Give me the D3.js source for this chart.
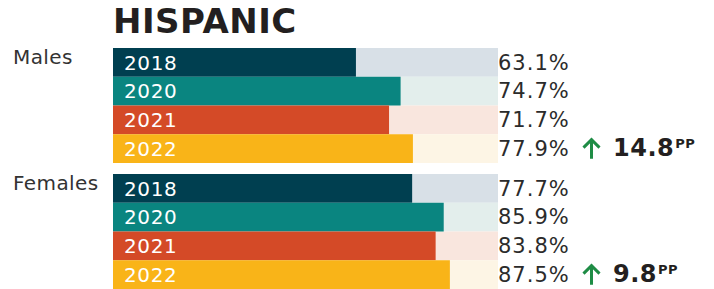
<!DOCTYPE html>
<html>
<head>
<meta charset="utf-8">
<script src="https://cdn.jsdelivr.net/npm/d3@7"></script>
<style>
body{margin:0;background:#fff;}
svg{display:block;font-family:"DejaVu Sans",Verdana,sans-serif;}
</style>
</head>
<body>
<svg id="chart" width="714" height="289"></svg>
<script>
// data
const title = "HISPANIC";
const groups = ["Males","Females"];
const years = ["2018","2020","2021","2022"];
const malesValues = [63.1,74.7,71.7,77.9];
const femalesValues = [77.7,85.9,83.8,87.5];
const changes = [14.8,9.8];

const barColors = ["#003f50","#0a8580","#d44a27","#f9b418"];
const trackColors = ["#d8e0e7","#e3eeec","#f9e6de","#fdf5e5"];

const svg = d3.select("#chart");

const x = d3.scaleLinear().domain([0,100]).range([113,498]);
const groupY = d3.scaleOrdinal().domain(groups).range([48,174]);
const rowY = d3.scaleBand().domain(years).range([0,115]).padding(0);

svg.append("text")
	.attr("x",113)
	.attr("y",33)
	.attr("font-size",34)
	.attr("font-weight","bold")
	.attr("letter-spacing",0.5)
	.attr("fill","#231f20")
	.text(title);

const seriesByGroup = [malesValues,femalesValues];

groups.forEach(function(g,gi){
	let vals = seriesByGroup[gi];
	let gEl = svg.append("g")
		.attr("id","g"+g)
		.attr("transform","translate(0,"+groupY(g)+")");

	gEl.append("text")
		.attr("x",13)
		.attr("y",15.5)
		.attr("font-size",20)
		.attr("letter-spacing",0.4)
		.attr("fill","#333")
		.text(g);

	// tracks
	gEl.selectAll("rect.track")
		.data(years)
		.enter()
		.append("rect")
		.attr("class","track")
		.attr("x",x(0))
		.attr("y",d=>rowY(d))
		.attr("width",x(100)-x(0))
		.attr("height",rowY.bandwidth())
		.attr("fill",(d,i)=>trackColors[i]);

	// bars
	gEl.selectAll("rect.bar")
		.data(vals)
		.enter()
		.append("rect")
		.attr("class","bar")
		.attr("x",x(0))
		.attr("y",(d,i)=>rowY(years[i]))
		.attr("width",d=>x(d)-x(0))
		.attr("height",rowY.bandwidth())
		.attr("fill",(d,i)=>barColors[i]);

	// year labels
	gEl.selectAll("text.year")
		.data(years)
		.enter()
		.append("text")
		.attr("class","year")
		.attr("x",124)
		.attr("y",d=>rowY(d)+rowY.bandwidth()/2+7.3)
		.attr("font-size",20)
		.attr("letter-spacing",0.6)
		.attr("fill","#fff")
		.text(d=>d);

	// value labels
	gEl.selectAll("text.val")
		.data(vals)
		.enter()
		.append("text")
		.attr("class","val")
		.attr("x",x(100))
		.attr("y",(d,i)=>rowY(years[i])+rowY.bandwidth()/2+7.3)
		.attr("font-size",21)
		.attr("letter-spacing",1)
		.attr("fill","#2b2b2b")
		.text(d=>d.toFixed(1)+"%");

	// change annotation on last row
	let last = years[years.length-1];
	let cy = rowY(last)+rowY.bandwidth()/2;
	gEl.append("path")
		.attr("d","M591.5,"+(cy+10)+" L591.5,"+(cy-8)+" M583.5,"+(cy-1)+" L591.5,"+(cy-9)+" L599.5,"+(cy-1))
		.attr("stroke","#1e8c45")
		.attr("stroke-width",3)
		.attr("fill","none");

	let t = gEl.append("text")
		.attr("x",613)
		.attr("y",cy+7.5)
		.attr("font-size",24)
		.attr("font-weight","bold")
		.attr("letter-spacing",0.5)
		.attr("fill","#231f20");
	t.append("tspan").text(changes[gi].toFixed(1));
	t.append("tspan")
		.attr("font-size",13)
		.attr("dx",1)
		.attr("dy",-8)
		.text("PP");
});
</script>
</body>
</html>
